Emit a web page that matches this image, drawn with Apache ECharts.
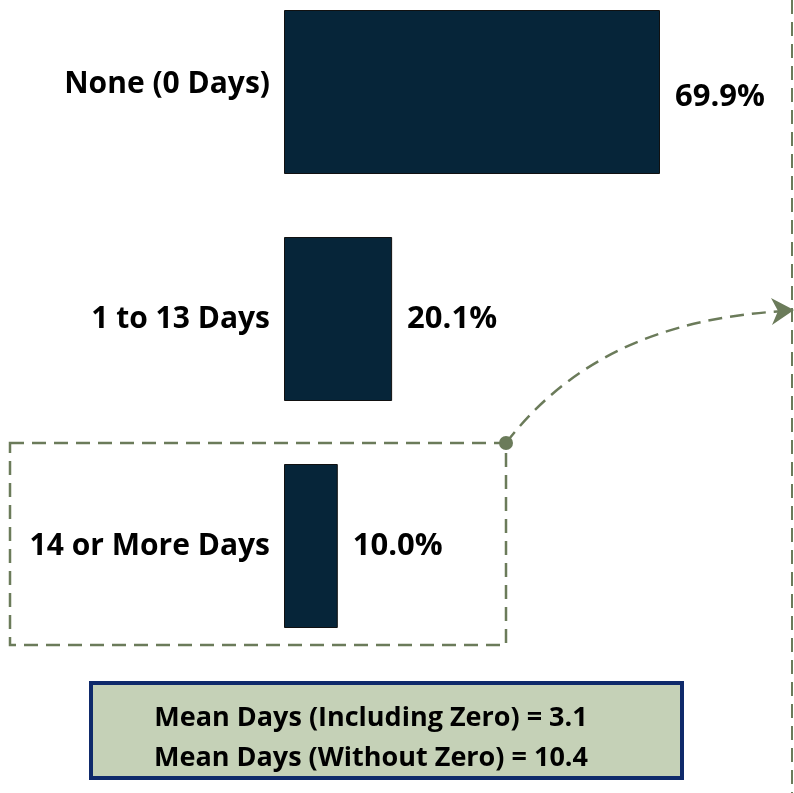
<!DOCTYPE html>
<html>
<head>
<meta charset="utf-8">
<script src="https://cdn.jsdelivr.net/npm/echarts@6/dist/echarts.min.js"></script>
<style>
  html, body { margin: 0; padding: 0; background: #fff; }
  #main { width: 794px; height: 793px; }
</style>
</head>
<body>
<div id="main"></div>
<script>
let chart = echarts.init(document.getElementById('main'));

// data
let categories = ['None (0 Days)', '1 to 13 Days', '14 or More Days'];
let shares = [69.9, 20.1, 10.0];
let mean_lines = ['Mean Days (Including Zero) = 3.1', 'Mean Days (Without Zero) = 10.4'];

let font = '"Open Sans", Lato, sans-serif';
let green = '#6b7b5a';

let option = {
    animation: false,
    grid: {
        left: 284,
        right: 134,
        top: 92,
        bottom: 247
    },
    xAxis: {
        type: 'value',
        min: 0,
        max: Math.max(...shares),
        show: false
    },
    yAxis: {
        type: 'category',
        data: categories,
        inverse: true,
        boundaryGap: false,
        axisLine: { show: false },
        axisTick: { show: false },
        axisLabel: {
            margin: 14,
            fontFamily: font,
            fontWeight: 'bold',
            fontSize: 30,
            color: '#000',
            // first label sits a little above its bar centre in the original
            formatter: (v, i) => i === 0 ? '{up|' + v + '}' : v,
            rich: {
                up: {
                    fontFamily: font,
                    fontWeight: 'bold',
                    fontSize: 30,
                    color: '#000',
                    padding: [0, 0, 16, 0]
                }
            }
        }
    },
    series: [
        {
            type: 'bar',
            data: shares.map((v, i) => ({
                value: v,
                label: { offset: [0, i === 0 ? 5 : 0] }
            })),
            barWidth: 164,
            itemStyle: {
                color: '#062539',
                borderColor: '#111',
                borderWidth: 1
            },
            label: {
                show: true,
                position: 'right',
                distance: 15,
                formatter: p => p.value.toFixed(1) + '%',
                fontFamily: font,
                fontWeight: 'bold',
                fontSize: 31,
                color: '#000'
            }
        }
    ],
    graphic: [
        // vertical dashed divider
        {
            type: 'line',
            shape: { x1: 792, y1: 0, x2: 792, y2: 793 },
            style: { stroke: green, lineWidth: 2, lineDash: [14, 8] }
        },
        // dashed box round the last bar
        {
            type: 'rect',
            shape: { x: 10, y: 443, width: 496, height: 202 },
            style: { fill: 'none', stroke: green, lineWidth: 2.5, lineDash: [14, 8] }
        },
        {
            type: 'bezierCurve',
            shape: { x1: 506, y1: 443, cpx1: 570, cpy1: 360, cpx2: 660, cpy2: 318, x2: 785, y2: 311 },
            style: { fill: 'none', stroke: green, lineWidth: 2.5, lineDash: [14, 8] }
        },
        {
            type: 'polygon',
            shape: { points: [[794, 310], [771, 298], [778, 311], [772, 325]] },
            style: { fill: green }
        },
        {
            type: 'circle',
            shape: { cx: 506, cy: 443, r: 7 },
            style: { fill: green }
        },
        // mean box
        {
            type: 'rect',
            shape: { x: 91, y: 683, width: 591, height: 95 },
            style: { fill: '#c5d1b7', stroke: '#0f2a6b', lineWidth: 4 }
        },
        {
            type: 'text',
            x: 371, y: 718,
            style: {
                text: mean_lines[0], align: 'center', verticalAlign: 'middle',
                font: 'bold 27px ' + font, fill: '#000'
            }
        },
        {
            type: 'text',
            x: 371, y: 758,
            style: {
                text: mean_lines[1], align: 'center', verticalAlign: 'middle',
                font: 'bold 27px ' + font, fill: '#000'
            }
        }
    ]
};

chart.setOption(option);
</script>
</body>
</html>
